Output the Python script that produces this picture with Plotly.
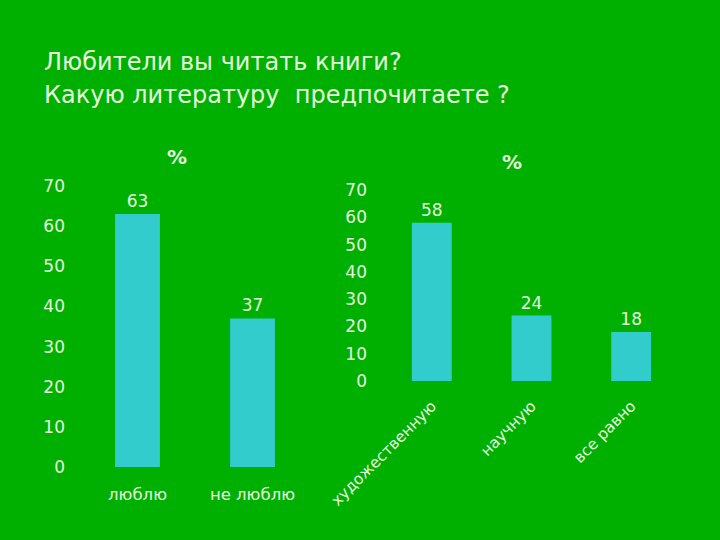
import plotly.graph_objects as go

title_lines = ["Любители вы читать книги?", "Какую литературу  предпочитаете ?"]
cats1 = ["люблю", "не люблю"]
vals1 = [63, 37]
cats2 = ["художественную", "научную", "все равно"]
vals2 = [58, 24, 18]
yticks = [0, 10, 20, 30, 40, 50, 60, 70]

BG = "#00B000"
BAR = "#33CCCC"
TXT = "#E6F7DF"
FONT = "DejaVu Sans"

fig = go.Figure()
fig.add_trace(go.Bar(x=cats1, y=vals1, marker=dict(color=BAR, line=dict(width=0)),
                     text=vals1, textposition="outside", cliponaxis=False,
                     textfont=dict(color=TXT, size=17, family=FONT),
                     xaxis="x", yaxis="y", width=0.39))
fig.add_trace(go.Bar(x=cats2, y=vals2, marker=dict(color=BAR, line=dict(width=0)),
                     text=vals2, textposition="outside", cliponaxis=False,
                     textfont=dict(color=TXT, size=17, family=FONT),
                     xaxis="x2", yaxis="y2", width=0.4))

axcommon = dict(showgrid=False, zeroline=False, showline=False, automargin=False)

def tf(size):
    return dict(color=TXT, size=size, family=FONT)

fig.update_layout(
    width=720, height=540,
    margin=dict(l=0, r=0, t=0, b=0, pad=0),
    paper_bgcolor=BG, plot_bgcolor=BG,
    showlegend=False,
    xaxis=dict(domain=[80/720, 310/720], anchor="y", ticks="", ticklabelstandoff=15,
               tickfont=tf(16.5), **axcommon),
    yaxis=dict(domain=[1-467/540, 1-186/540], range=[0, 70], tickvals=yticks,
               anchor="x", ticks="", ticklabelstandoff=14, tickfont=tf(17), **axcommon),
    xaxis2=dict(domain=[382/720, 681/720], anchor="y2", ticks="", tickangle=-45,
                ticklabelstandoff=12, tickfont=tf(15.5), **axcommon),
    yaxis2=dict(domain=[1-381/540, 1-190/540], range=[0, 70], tickvals=yticks,
                anchor="x2", ticks="", ticklabelstandoff=14, tickfont=tf(17), **axcommon),
)

for i, line in enumerate(title_lines):
    fig.add_annotation(text=line, xref="paper", yref="paper", x=42/720, y=1-(62+33*i)/540,
                       xanchor="left", yanchor="middle", showarrow=False,
                       font=dict(color=TXT, size=24, family=FONT))

for xc, yc in [(177, 157), (512, 162)]:
    fig.add_annotation(text="<b>%</b>", xref="paper", yref="paper", x=xc/720, y=1-yc/540,
                       xanchor="center", yanchor="middle", showarrow=False,
                       font=dict(color=TXT, size=20, family=FONT))

fig.write_html("out.html")
